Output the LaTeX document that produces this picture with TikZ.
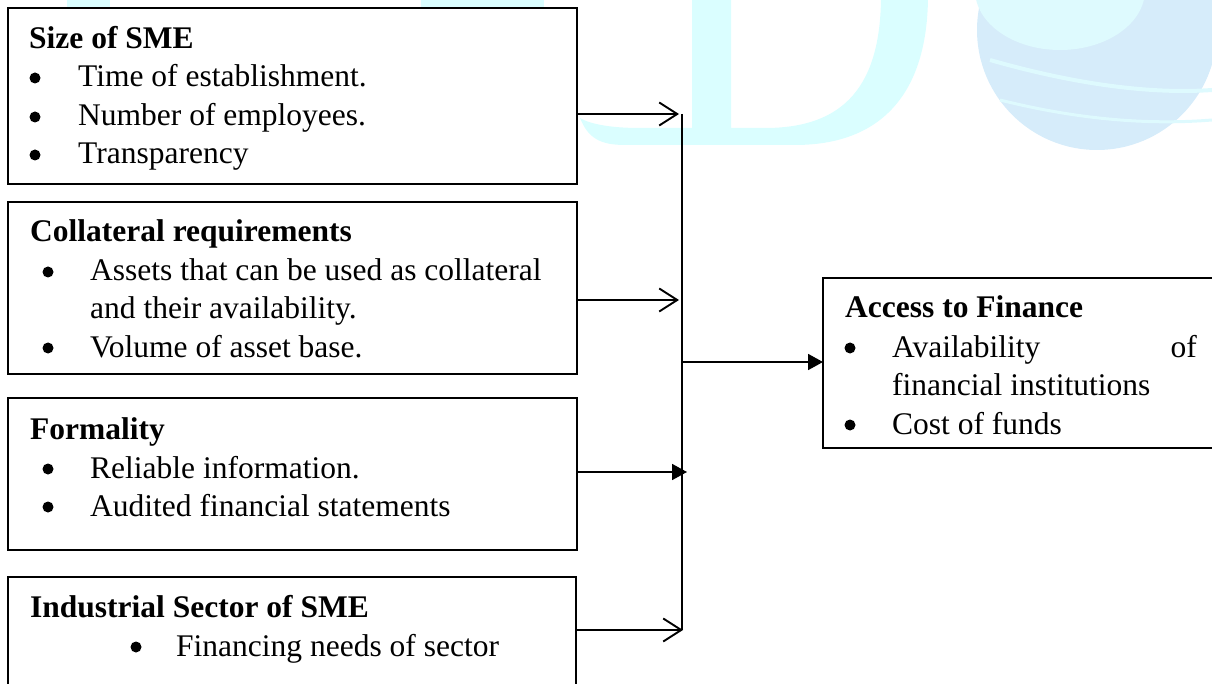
\documentclass[tikz,border=0pt]{standalone}
\usepackage{fontspec}
\setmainfont{Liberation Serif}
\usetikzlibrary{arrows.meta}
\definecolor{wmcyan}{RGB}{218,254,255}
\definecolor{globeblue}{RGB}{214,236,250}
\definecolor{globecyan}{RGB}{222,250,254}
\begin{document}
\begin{tikzpicture}[x=1pt,y=-1pt,
  box/.style={draw, line width=1.8pt, fill=white, inner sep=0pt, outer sep=0pt, anchor=north west},
  txt/.style={anchor=base west, inner sep=0pt, font=\fontsize{31.5}{38.5}\selectfont},
  hd/.style={anchor=base west, inner sep=0pt, font=\fontsize{31.5}{38.5}\selectfont\bfseries},
  conn/.style={line width=1.8pt},
  openarr/.style={conn, -{Straight Barb[length=18pt,width=23pt,line width=1.9pt]}},
  fillarr/.style={conn, -{Triangle[length=15pt,width=16pt]}},
  wm/.style={fill=wmcyan, draw=none},
  bul/.style={fill=black}]
\useasboundingbox (0,0) rectangle (1212,684);
\clip (0,0) rectangle (1212,684);
% watermark
\fill[wm] (580,118) .. controls (588,138) and (600,145) .. (625,145) -- (795,145)
  .. controls (880,145) and (928,95) .. (928,-5) -- (881,-5)
  .. controls (881,85) and (845,128) .. (765,128) -- (731,128) -- (731,-5) -- (692,-5)
  -- (692,128) -- (640,128) .. controls (610,128) and (590,124) .. (580,118) -- cycle;
\fill[wm] (67,-2) rectangle (110,9);
\fill[wm] (421,-2) rectangle (544,9);
\fill[globeblue] (1097,30) circle (120pt);
\fill[globecyan] (1060,-10) ellipse (85pt and 60pt);
\draw[globecyan, line width=4pt] (990,60) .. controls (1060,80) and (1140,95) .. (1212,90);
\draw[globecyan, line width=3pt] (1000,100) .. controls (1080,120) and (1150,125) .. (1212,120);
% boxes
\node[box, minimum width=569pt, minimum height=176pt] (b1) at (8,8) {};
\node[box, minimum width=569pt, minimum height=172pt] (b2) at (8,202) {};
\node[box, minimum width=569pt, minimum height=152pt] (b3) at (8,398) {};
\node[box, minimum width=568pt, minimum height=130pt] (b4) at (8,577) {};
\node[box, minimum width=420pt, minimum height=170pt] (b5) at (823,278) {};
% box 1
\node[hd] (h1) at (29,49) {Size of SME};
\fill[bul] (35,78) circle (5.5pt);
\node[txt] (t11) at (78,87) {Time of establishment.};
\fill[bul] (35,117) circle (5.5pt);
\node[txt] (t12) at (78,126) {Number of employees.};
\fill[bul] (35,155) circle (5.5pt);
\node[txt] (t13) at (78,164) {Transparency};
% box 2
\node[hd] (h2) at (30,242) {Collateral requirements};
\fill[bul] (48,272) circle (5.5pt);
\node[txt] (t21) at (90,281) {Assets that can be used as collateral};
\node[txt] (t22) at (90,319) {and their availability.};
\fill[bul] (48,348) circle (5.5pt);
\node[txt] (t23) at (90,357) {Volume of asset base.};
% box 3
\node[hd] (h3) at (30,439) {Formality};
\fill[bul] (48,469) circle (5.5pt);
\node[txt] (t31) at (90,478) {Reliable information.};
\fill[bul] (48,507) circle (5.5pt);
\node[txt] (t32) at (90,516) {Audited financial statements};
% box 4
\node[hd] (h4) at (30,617) {Industrial Sector of SME};
\fill[bul] (136,647) circle (5.5pt);
\node[txt] (t41) at (176,656) {Financing needs of sector};
% box 5
\node[hd] (h5) at (845,318) {Access to Finance};
\fill[bul] (850,348) circle (5.5pt);
\node[txt] (t51) at (892,357) {Availability};
\node[txt, anchor=base east] (t51b) at (1197,357) {of};
\node[txt] (t52) at (892,395) {financial institutions};
\fill[bul] (850,425) circle (5.5pt);
\node[txt] (t53) at (892,434) {Cost of funds};
% connectors
\coordinate (j1) at (682,114);
\coordinate (j2) at (682,300);
\coordinate (jm) at (682,362);
\coordinate (j3) at (682,472);
\coordinate (j4) at (682,630);
\draw[conn] (j1) -- (j4);
\draw[openarr] (b1.east |- j1) -- ([xshift=-3pt]j1);
\draw[openarr] (b2.east |- j2) -- ([xshift=-3pt]j2);
\draw[fillarr] (b3.east |- j3) -- ([xshift=5pt]j3);
\draw[openarr] (b4.east |- j4) -- ([xshift=1pt]j4);
\draw[fillarr] (jm) -- (b5.west |- jm);
\end{tikzpicture}
\end{document}
